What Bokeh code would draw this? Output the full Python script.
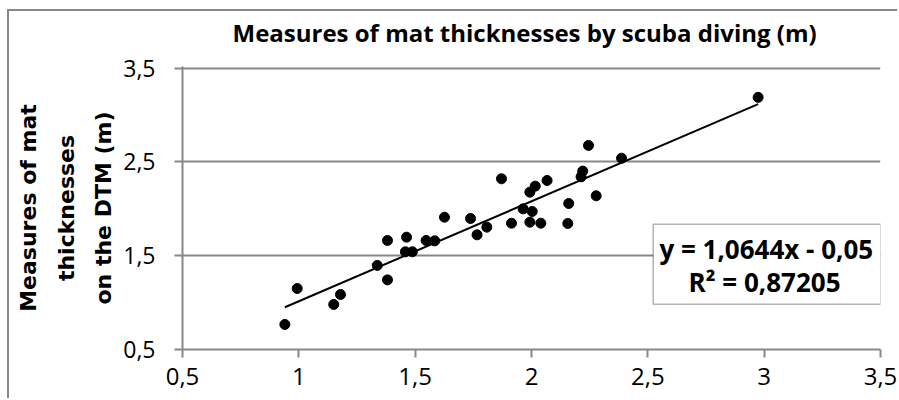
import numpy as np
from bokeh.plotting import figure
from bokeh.models import Range1d, FixedTicker, BoxAnnotation, Label, Title
from bokeh.embed import file_html
from bokeh.resources import INLINE

# ---- data ----
x_scuba = [0.94, 0.993, 1.150, 1.179, 1.337, 1.381, 1.381, 1.463, 1.458, 1.488,
           1.547, 1.584, 1.626, 1.738, 1.766, 1.808, 1.871, 1.914, 1.964, 1.993,
           2.003, 1.993, 2.016, 2.040, 2.067, 2.156, 2.160, 2.213, 2.220, 2.245,
           2.278, 2.387, 2.974]
y_dtm = [0.767, 1.150, 0.980, 1.086, 1.396, 1.242, 1.662, 1.697, 1.541, 1.541,
         1.662, 1.658, 1.910, 1.896, 1.722, 1.804, 2.319, 1.846, 1.999, 1.857,
         1.971, 2.177, 2.241, 1.846, 2.301, 1.843, 2.056, 2.340, 2.401, 2.675,
         2.138, 2.539, 3.187]

trend_slope = 1.0644
trend_intercept = -0.05

x_ticks = [0.5, 1.0, 1.5, 2.0, 2.5, 3.0, 3.5]
x_tick_labels = ["0,5", "1", "1,5", "2", "2,5", "3", "3,5"]
y_ticks = [0.5, 1.5, 2.5, 3.5]
y_tick_labels = ["0,5", "1,5", "2,5", "3,5"]

title_text = "Measures of mat thicknesses by scuba diving (m)"
y_title = "Measures of mat\nthicknesses\non the DTM (m)"
equation_lines = ["y = 1,0644x - 0,05", "R\u00b2 = 0,87205"]

GRAY = "#888888"
FONT = "Open Sans"

p = figure(width=890, height=389, output_backend="svg", toolbar_location=None,
           x_range=Range1d(0.5, 3.5), y_range=Range1d(0.5, 3.516),
           min_border_left=173, min_border_right=19,
           min_border_top=55, min_border_bottom=51)
p.outline_line_color = None
p.background_fill_color = "white"
p.border_fill_color = "white"
# outer chart border (only its left and top edges fall inside the picture)
p.styles = {"margin-left": "7px", "margin-top": "9px",
            "border-left": "2px solid #888888", "border-top": "2px solid #888888"}

# axes
for ax, ticks, labels in ((p.xaxis[0], x_ticks, x_tick_labels),
                          (p.yaxis[0], y_ticks, y_tick_labels)):
    ax.ticker = FixedTicker(ticks=ticks)
    ax.major_label_overrides = {t: l for t, l in zip(ticks, labels)}
    ax.axis_line_color = GRAY
    ax.axis_line_width = 2
    ax.major_tick_line_color = GRAY
    ax.major_tick_line_width = 2
    ax.major_tick_out = 8
    ax.major_tick_in = 0
    ax.minor_tick_line_color = None
    ax.major_label_text_font = FONT
    ax.major_label_text_color = "black"

p.xaxis.major_label_text_font_size = "24px"
p.xaxis.major_label_standoff = 10
p.yaxis.major_label_text_font_size = "23px"
p.yaxis.major_label_standoff = 19

p.yaxis.axis_label = y_title
p.yaxis.axis_label_text_font = "DejaVu Sans"
p.yaxis.axis_label_text_font_style = "bold"
p.yaxis.axis_label_text_font_size = "22px"
p.yaxis.axis_label_text_line_height = 1.5
p.yaxis.axis_label_text_color = "black"
p.yaxis.axis_label_standoff = 4

p.xgrid.visible = False
p.ygrid.grid_line_color = GRAY
p.ygrid.grid_line_width = 2

# spacer between title and plot area, then the title itself
p.add_layout(Title(text=" ", text_font_size="1px", standoff=15), "above")
p.title.text = title_text
p.title.text_font = FONT
p.title.text_font_style = "bold"
p.title.text_font_size = "24px"
p.title.text_color = "black"
p.title.align = "left"
p.title.offset = 50
p.title.vertical_align = "bottom"
p.title.standoff = 0

# trend line
xs = np.array([min(x_scuba), max(x_scuba)])
p.line(xs, trend_slope * xs + trend_intercept, line_color="black", line_width=2)

# points
p.scatter(x_scuba, y_dtm, size=10, color="black")

# equation box
p.add_layout(BoxAnnotation(left=641.7, right=869.3, top=210.7, bottom=290.7,
                           left_units="canvas", right_units="canvas",
                           top_units="canvas", bottom_units="canvas",
                           fill_color="white", fill_alpha=1,
                           line_color="black", line_width=1.5))
for xc, yc, line in zip([754.8, 753], [235, 268.2], equation_lines):
    p.add_layout(Label(x=xc, y=yc, x_units="canvas", y_units="canvas",
                       text=line, text_font=FONT, text_font_style="bold",
                       text_font_size="26px", text_align="center",
                       text_baseline="middle", text_color="black"))

open("out.html", "w").write(file_html(p, INLINE))
